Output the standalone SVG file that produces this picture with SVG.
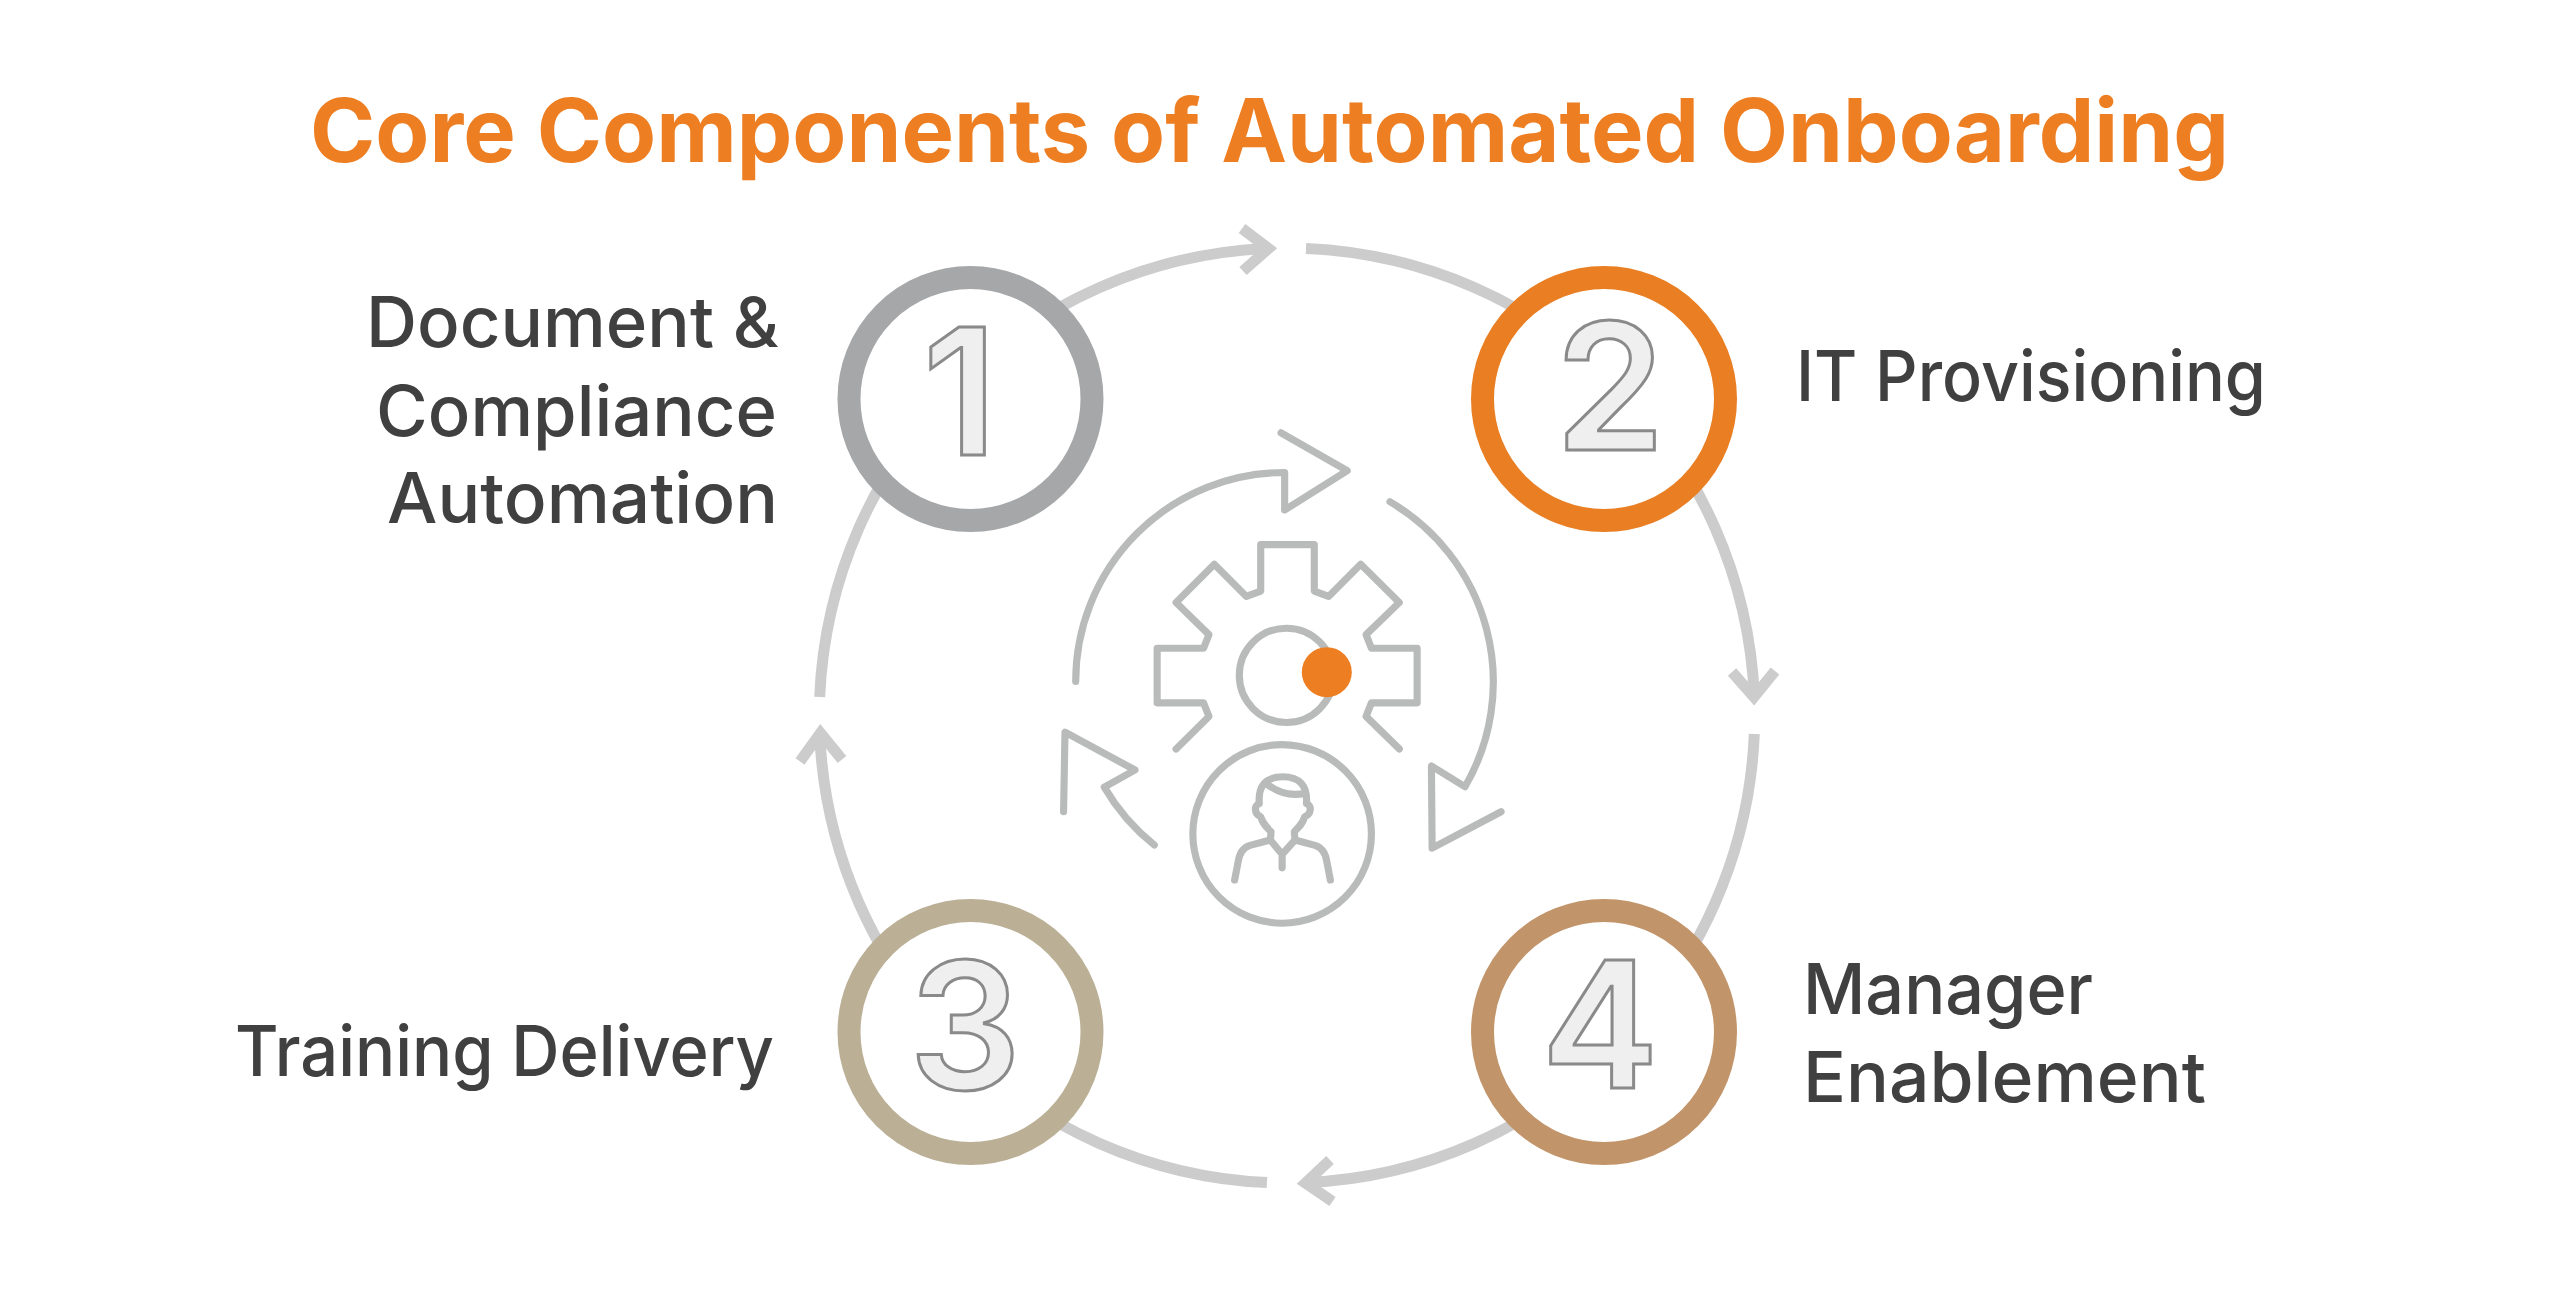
<svg xmlns="http://www.w3.org/2000/svg" width="2560" height="1291" viewBox="0 0 2560 1291">
<style>
text{font-family:"Inter","Noto Sans","Liberation Sans",sans-serif}
.title{font-size:88px;font-weight:700;fill:#ee7e22}
.lbl{font-size:70px;font-weight:500;fill:#404040}
.num{font-size:176px;font-weight:600;fill:#efefef;stroke:#8a8a8a;stroke-width:3;text-anchor:middle}
.ring{fill:#fff;stroke-width:23}
.arc{fill:none;stroke:#cccccc;stroke-width:11;stroke-linejoin:miter;stroke-miterlimit:10}
.ic{fill:none;stroke:#b9bbbb;stroke-width:20;stroke-linecap:round;stroke-linejoin:round}
</style>
<rect width="2560" height="1291" fill="#ffffff"/>
<text id="title" class="title" x="310" y="162" textLength="1919" lengthAdjust="spacingAndGlyphs">Core Components of Automated Onboarding</text>
<g id="connectors">
<path class="arc" d="M957 385 A467.5 467.5 0 0 1 1268 248.4"/>
<polyline class="arc" points="1242,228.5 1268.5,248.5 1243,271"/>
<path class="arc" d="M1306 248.4 A467.5 467.5 0 0 1 1617 385"/>
<path class="arc" d="M1617 385 A467.5 467.5 0 0 1 1754.3 697"/>
<polyline class="arc" points="1732,672 1754,697 1775,671"/>
<path class="arc" d="M1754.3 734 A467.5 467.5 0 0 1 1617 1046"/>
<path class="arc" d="M1617 1046 A467.5 467.5 0 0 1 1305.5 1182.6"/>
<polyline class="arc" points="1330,1160 1305.5,1183 1332.5,1201.5"/>
<path class="arc" d="M1267 1182.6 A467.5 467.5 0 0 1 957 1046"/>
<path class="arc" d="M957 1046 A467.5 467.5 0 0 1 819.7 733"/>
<polyline class="arc" points="800,761.5 820.5,733 842,759.5"/>
<path class="arc" d="M819.7 697 A467.5 467.5 0 0 1 957 385"/>
</g>
<g id="node-1">
<circle class="ring" cx="970.5" cy="399" r="121.5" stroke="#a5a7a8"/>
<text class="num" x="960" y="455">1</text>
<text class="lbl" x="366" y="347" textLength="413" lengthAdjust="spacingAndGlyphs">Document &amp;</text>
<text class="lbl" x="376" y="436" textLength="401" lengthAdjust="spacingAndGlyphs">Compliance</text>
<text class="lbl" x="387" y="523" textLength="391" lengthAdjust="spacingAndGlyphs">Automation</text>
</g>
<g id="node-2">
<circle class="ring" cx="1604" cy="399" r="121.5" stroke="#e97e23"/>
<text class="num" x="1610" y="450">2</text>
<text class="lbl" x="1796" y="401" textLength="470" lengthAdjust="spacingAndGlyphs">IT Provisioning</text>
</g>
<g id="node-3">
<circle class="ring" cx="970.5" cy="1032" r="121.5" stroke="#bbb096"/>
<text class="num" x="965" y="1089">3</text>
<text class="lbl" x="235" y="1076" textLength="539" lengthAdjust="spacingAndGlyphs">Training Delivery</text>
</g>
<g id="node-4">
<circle class="ring" cx="1604" cy="1032" r="121.5" stroke="#c2946a"/>
<text class="num" x="1600" y="1088">4</text>
<text class="lbl" x="1803" y="1014" textLength="290" lengthAdjust="spacingAndGlyphs">Manager</text>
<text class="lbl" x="1803" y="1102" textLength="403" lengthAdjust="spacingAndGlyphs">Enablement</text>
</g>
<g id="center-icon" transform="translate(1000 400) scale(0.35714)">
<path class="ic" d="M212 788 A584 584 0 0 1 797 203 L797 308 L972 198 L787 92"/>
<path class="ic" d="M1092 285 A584 584 0 0 1 1302 1083 L1208 1025 L1210 1255 L1403 1153"/>
<path class="ic" d="M432 1246 A584 584 0 0 1 292 1084 L378 1036 L182 930 L178 1153"/>
<polyline class="ic" points="493,977 585,886 570,848 440,848 440,695 570,695 585,657 493,567 600,460 690,550 730,535 730,405 880,405 880,535 920,550 1010,460 1118,567 1025,657 1040,695 1168,695 1168,848 1040,848 1025,886 1118,977"/>
<circle class="ic" cx="802" cy="771" r="132"/>
<circle cx="915" cy="762" r="70" fill="#ee7e22"/>
<circle class="ic" cx="790" cy="1215" r="250"/>
<path class="ic" d="M657 1344 L667 1292 C670 1272 677 1254 700 1247 L757 1232 L759 1209 C745 1195 735 1185 730 1167 C712 1160 710 1135 726 1130 C722 1080 745 1055 792 1055 C838 1055 862 1080 858 1130 C874 1135 872 1160 853 1167 C848 1185 838 1195 824 1209 L826 1232 L882 1247 C905 1254 912 1272 915 1292 L925 1344"/>
<path class="ic" d="M757 1232 L790 1272 L826 1232 M790 1272 L790 1310 M744 1073 C775 1098 815 1110 855 1101"/>
</g>
</svg>
